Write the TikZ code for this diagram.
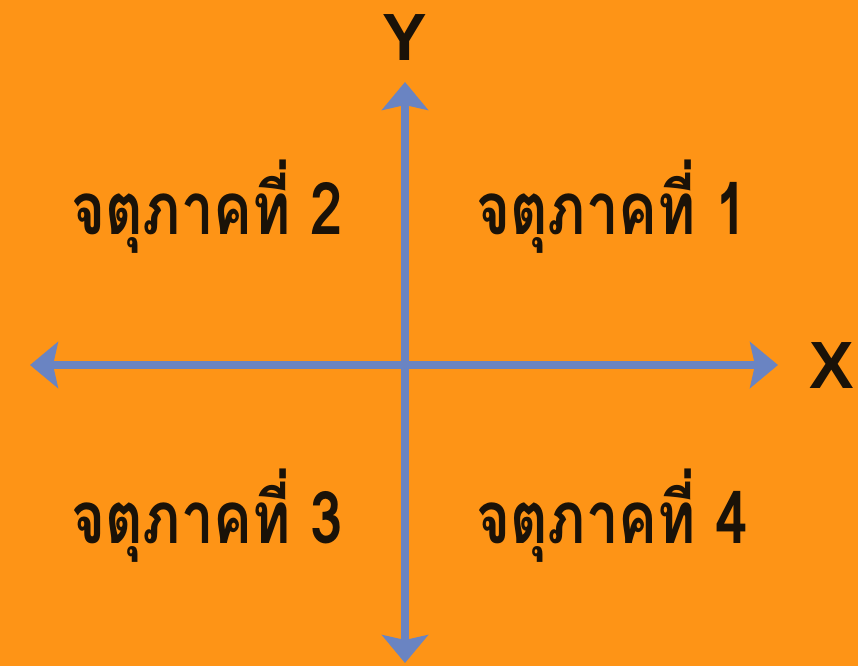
\documentclass[tikz,border=0pt]{standalone}
\usepackage{fontspec}
\setmainfont{Liberation Sans}
\newfontfamily\thaifont[Script=Thai]{Loma}
\usetikzlibrary{arrows.meta}
\definecolor{bgorange}{HTML}{FE9416}
\definecolor{axisblue}{HTML}{6A84C2}
\definecolor{inkdark}{HTML}{1A1208}

\begin{document}
\begin{tikzpicture}[x=0.01cm,y=-0.01cm,
  axis/.style={axisblue, line width=2pt, {Stealth[length=0.28cm,width=0.46cm,inset=0.05cm]}-{Stealth[length=0.28cm,width=0.46cm,inset=0.05cm]}},
  quad/.style={inkdark, font=\thaifont\bfseries\fontsize{16.5}{20}\selectfont, yscale=1.25, transform shape},
  axlabel/.style={inkdark, font=\bfseries\fontsize{19}{22}\selectfont}]
\fill[bgorange] (0,0) rectangle (858,666);
\useasboundingbox (0,0) rectangle (858,666);
% axes
\coordinate (xl) at (30,365);
\coordinate (xr) at (778,365);
\coordinate (yt) at (405,82);
\coordinate (yb) at (405,663);
\draw[axis] (xl) -- (xr);
\draw[axis] (yb) -- (yt);
\node[axlabel] (ylab) at (405,38) {Y};
\node[axlabel] (xlab) at (832,366) {X};
% quadrants
\node[quad] (q1) at (612,207) {จตุภาคที่ 1};
\node[quad] (q2) at (207,207) {จตุภาคที่ 2};
\node[quad] (q3) at (207,516) {จตุภาคที่ 3};
\node[quad] (q4) at (612,516) {จตุภาคที่ 4};
\end{tikzpicture}
\end{document}
